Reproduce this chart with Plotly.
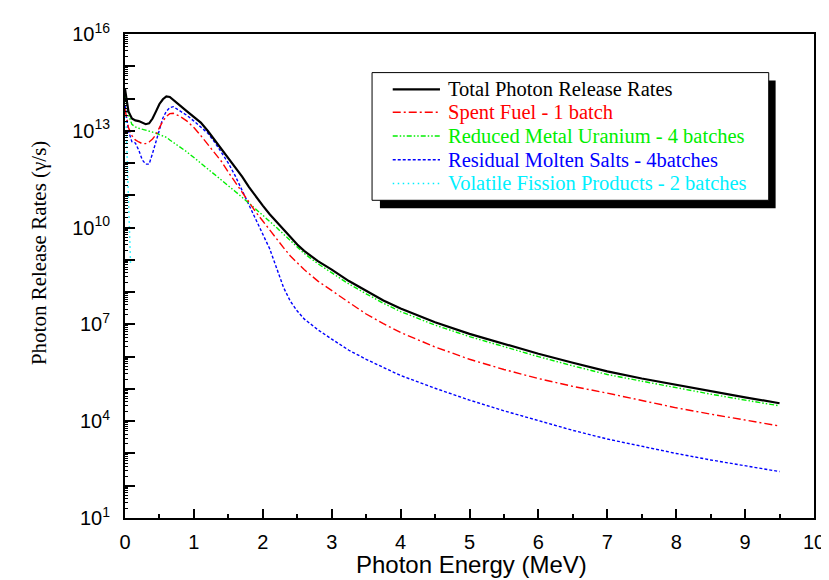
import plotly.graph_objects as go

# ---------------- data ----------------
energy = [0.0, 0.05, 0.1, 0.15, 0.2, 0.25, 0.3, 0.35, 0.4, 0.45, 0.5, 0.55, 0.6, 0.65,
          0.7, 0.8, 0.9, 1.0, 1.1, 1.2, 1.3, 1.4, 1.5, 1.6, 1.7, 1.8, 1.9, 2.0, 2.1,
          2.2, 2.3, 2.4, 2.5, 2.6, 2.8, 3.0, 3.25, 3.5, 3.75, 4.0, 4.5, 5.0, 5.5, 6.0,
          6.5, 7.0, 7.5, 8.0, 8.5, 9.0, 9.5]

total = [2.0e14, 4.0e13, 2.4e13, 2.1e13, 2.0e13, 1.8e13, 1.6e13, 1.7e13, 2.4e13, 4.0e13,
         6.8e13, 9.5e13, 1.17e14, 1.12e14, 9.3e13, 6.0e13, 4.0e13, 2.7e13, 1.8e13, 1.0e13,
         5.2e12, 2.8e12, 1.5e12, 7.9e11, 3.8e11, 1.8e11, 8.9e10, 4.8e10, 2.6e10, 1.5e10,
         8.5e9, 5.0e9, 3.0e9, 1.9e9, 9.1e8, 5.0e8, 2.2e8, 1.1e8, 5.5e7, 3.1e7, 1.17e7,
         5.1e6, 2.45e6, 1.23e6, 6.5e5, 3.5e5, 2.1e5, 1.32e5, 8.5e4, 5.5e4, 3.6e4]

spent_fuel = [4.7e13, 1.26e13, 7.1e12, 5.2e12, 4.5e12, 4.0e12, 4.0e12, 4.5e12, 5.6e12, 7.6e12,
              1.26e13, 2.0e13, 2.8e13, 3.4e13, 3.5e13, 2.8e13, 2.0e13, 1.26e13, 7.1e12, 3.8e12,
              2.1e12, 1.12e12, 5.2e11, 2.5e11, 1.26e11, 6.0e10, 3.0e10, 1.6e10, 8.3e9, 4.5e9,
              2.4e9, 1.32e9, 7.9e8, 5.0e8, 2.2e8, 1.15e8, 4.8e7, 2.1e7, 1.05e7, 5.6e6, 2.0e6,
              8.3e5, 4.0e5, 2.1e5, 1.2e5, 7.4e4, 4.4e4, 2.6e4, 1.66e4, 1.07e4, 7.1e3]

metal_uranium = [1.35e14, 3.2e13, 1.58e13, 1.32e13, 1.2e13, 1.12e13, 1.05e13, 1.0e13, 9.3e12,
                 8.5e12, 7.6e12, 6.9e12, 6.3e12, 5.2e12, 4.4e12, 3.2e12, 2.2e12, 1.48e12,
                 1.0e12, 6.6e11, 4.4e11, 3.0e11, 2.0e11, 1.32e11, 8.7e10, 5.8e10, 3.7e10,
                 2.4e10, 1.58e10, 1.0e10, 6.3e9, 4.0e9, 2.5e9, 1.58e9, 7.6e8, 4.0e8, 1.78e8,
                 8.9e7, 4.5e7, 2.5e7, 9.5e6, 4.2e6, 2.0e6, 1.0e6, 5.2e5, 2.8e5, 1.74e5,
                 1.07e5, 6.9e4, 4.5e4, 3.0e4]

molten_salts = [6.3e13, 1.0e13, 4.6e12, 4.2e12, 2.5e12, 1.26e12, 9.3e11, 9.3e11, 2.0e12, 4.5e12,
                1.12e13, 2.5e13, 4.0e13, 5.2e13, 5.6e13, 4.2e13, 3.0e13, 2.0e13, 1.32e13, 8.5e12,
                4.5e12, 2.2e12, 1.0e12, 4.0e11, 1.41e11, 5.2e10, 1.78e10, 6.3e9, 2.2e9, 5.6e8,
                1.41e8, 5.2e7, 2.6e7, 1.48e7, 6.8e6, 3.5e6, 1.58e6, 8.3e5, 4.6e5, 2.6e5, 1.05e5,
                4.5e4, 2.1e4, 1.05e4, 5.2e3, 2.8e3, 1.66e3, 1.0e3, 630, 420, 275]

volatile_energy = [0.01, 0.02, 0.03, 0.04, 0.05, 0.06, 0.07, 0.08]
volatile_fp = [4.0e13, 8.0e12, 1.6e12, 3.0e11, 1.0e11, 2.0e10, 5.0e9, 8.0e8]

series_names = ["Total Photon Release Rates", "Spent Fuel - 1 batch",
                "Reduced Metal Uranium - 4 batches", "Residual Molten Salts - 4batches",
                "Volatile Fission Products - 2 batches"]

x_ticks = [0, 1, 2, 3, 4, 5, 6, 7, 8, 9, 10]
y_decades = list(range(1, 17))
y_labeled = [1, 4, 7, 10, 13, 16]

# ---------------- styles ----------------
colors = ["#000000", "#ff0000", "#00ee00", "#0000ff", "#00f0ff"]
dashes = ["solid", "8px,3px,2px,3px", "5px,2px,1.5px,2px,1.5px,2px", "3px,2px", "1.5px,3.5px"]
widths = [2.2, 1.4, 1.4, 1.4, 1.5]

SERIF = "Times New Roman, Liberation Serif, serif"
SANS = "Arial, Liberation Sans, sans-serif"

W, H = 829, 580
L, R, T, B = 117, 817, 21, 510


def px(x):
    return (x - L) / (R - L)


def py(y):
    return (B - y) / (B - T)


fig = go.Figure()
xs_list = [energy, energy, energy, energy, volatile_energy]
ys_list = [total, spent_fuel, metal_uranium, molten_salts, volatile_fp]
order = [4, 3, 2, 1, 0]
for i in order:
    fig.add_trace(go.Scatter(
        x=xs_list[i], y=ys_list[i], mode="lines", name=series_names[i],
        line=dict(color=colors[i], width=widths[i], dash=dashes[i]),
        showlegend=False, hoverinfo="skip", cliponaxis=False))

# y ticks
y_tickvals = [10.0 ** k for k in y_decades]
y_ticktext = [("10<sup>%d</sup>" % k) if k in y_labeled else "" for k in y_decades]
y_minor = [d * 10.0 ** k for k in y_decades[:-1] for d in range(2, 10)]

fig.update_layout(
    width=W, height=H,
    margin=dict(l=L, r=W - R, t=T, b=H - B, pad=0),
    paper_bgcolor="white", plot_bgcolor="white",
    xaxis=dict(range=[0, 10], tickvals=x_ticks, ticks="inside", ticklen=9, tickwidth=2,
               tickcolor="black", showline=True, linecolor="black", linewidth=2,
               mirror=True, showgrid=False, zeroline=False, ticklabelstandoff=5,
               tickfont=dict(family=SANS, size=20, color="black"),
               minor=dict(dtick=0.5, ticks="inside", ticklen=4, tickwidth=1.5,
                          tickcolor="black", showgrid=False)),
    yaxis=dict(type="log", range=[1, 16], tickvals=y_tickvals, ticktext=y_ticktext,
               ticks="inside", ticklen=10, tickwidth=2, tickcolor="black",
               showline=True, linecolor="black", linewidth=2, mirror=True,
               showgrid=False, zeroline=False, ticklabelstandoff=9,
               tickfont=dict(family=SANS, size=20, color="black"),
               minor=dict(tickmode="array", tickvals=y_minor, ticks="inside",
                          ticklen=3, tickwidth=1, tickcolor="black", showgrid=False)),
)

# axis titles
fig.add_annotation(text="Photon Energy (MeV)", xref="paper", yref="paper",
                   x=px(469), y=py(557), xanchor="center", yanchor="middle",
                   showarrow=False, font=dict(family=SANS, size=24, color="black"))
fig.add_annotation(text="Photon Release Rates (γ/s)", xref="paper", yref="paper",
                   x=px(29), y=py(242), xanchor="center", yanchor="middle", textangle=-90,
                   showarrow=False, font=dict(family=SERIF, size=21, color="black"))

# legend box with shadow
fig.add_shape(type="rect", xref="paper", yref="paper", x0=px(376), x1=px(778),
              y0=py(197), y1=py(68), fillcolor="black", line=dict(width=0), layer="above")
fig.add_shape(type="rect", xref="paper", yref="paper", x0=px(368), x1=px(771),
              y0=py(189), y1=py(60), fillcolor="white", line=dict(color="black", width=1),
              layer="above")
row_y = [77, 100, 124, 148, 172]
for i in range(5):
    fig.add_shape(type="line", xref="paper", yref="paper", x0=px(389), x1=px(437),
                  y0=py(row_y[i]), y1=py(row_y[i]), layer="above",
                  line=dict(color=colors[i], width=widths[i], dash=dashes[i]))
    fig.add_annotation(text=series_names[i], xref="paper", yref="paper",
                       x=px(443), y=py(row_y[i]), xanchor="left", yanchor="middle",
                       showarrow=False, font=dict(family=SERIF, size=20.5, color=colors[i]))

fig.write_html("out.html")
